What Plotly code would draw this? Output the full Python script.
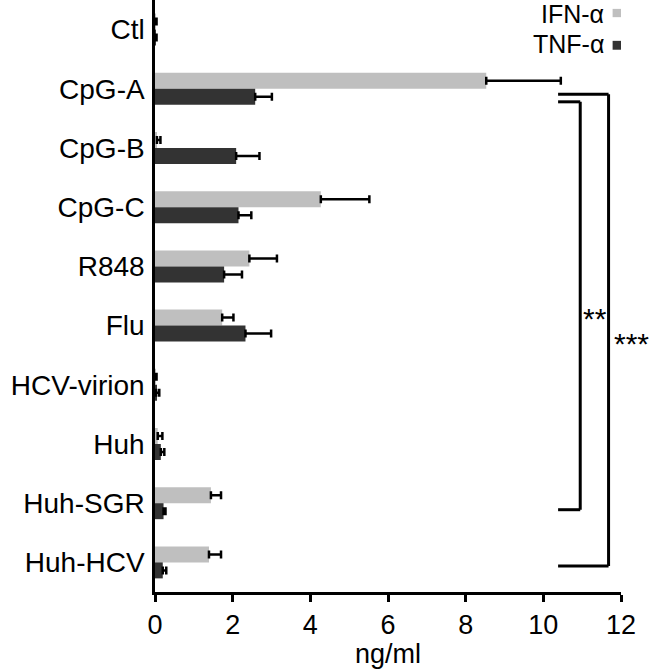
import plotly.graph_objects as go

categories = ["Ctl", "CpG-A", "CpG-B", "CpG-C", "R848", "Flu",
              "HCV-virion", "Huh", "Huh-SGR", "Huh-HCV"]
ifn_values = [0.01, 8.53, 0.05, 4.27, 2.43, 1.73, 0.01, 0.07, 1.44, 1.39]
ifn_errors = [0.03, 1.92, 0.09, 1.25, 0.71, 0.29, 0.03, 0.12, 0.26, 0.31]
tnf_values = [0.01, 2.58, 2.09, 2.15, 1.78, 2.33, 0.03, 0.15, 0.22, 0.20]
tnf_errors = [0.03, 0.43, 0.60, 0.33, 0.46, 0.66, 0.08, 0.09, 0.05, 0.09]
series_names = ["IFN-α", "TNF-α"]
x_ticks = [0, 2, 4, 6, 8, 10, 12]
x_title = "ng/ml"

FONT = "Arial, Liberation Sans, Helvetica, sans-serif"
IFN_COLOR = "#bfbfbf"
TNF_COLOR = "#333333"

fig = go.Figure()
for name, vals, errs, col in [(series_names[0], ifn_values, ifn_errors, IFN_COLOR),
                              (series_names[1], tnf_values, tnf_errors, TNF_COLOR)]:
    fig.add_trace(go.Bar(
        y=categories, x=vals, orientation="h", name=name,
        marker=dict(color=col, line=dict(width=0)),
        error_x=dict(type="data", array=errs, symmetric=False,
                     arrayminus=[0] * len(errs),
                     color="black", thickness=2.5, width=4),
        showlegend=False,
    ))

# significance brackets (category index positions)
line = dict(color="black", width=3)
i_a = categories.index("CpG-A")
i_sgr = categories.index("Huh-SGR")
i_hcv = categories.index("Huh-HCV")
x_left, x_inner, x_outer = 10.38, 10.95, 11.68
shapes = [
    # inner (**) bracket CpG-A to Huh-SGR
    dict(type="line", xref="x", yref="y", x0=x_left, x1=x_inner, y0=i_a + 0.22, y1=i_a + 0.22, line=line),
    dict(type="line", xref="x", yref="y", x0=x_inner, x1=x_inner, y0=i_a + 0.22, y1=i_sgr + 0.11, line=line),
    dict(type="line", xref="x", yref="y", x0=x_left, x1=x_inner, y0=i_sgr + 0.11, y1=i_sgr + 0.11, line=line),
    # outer (***) bracket CpG-A to Huh-HCV
    dict(type="line", xref="x", yref="y", x0=x_left, x1=x_outer, y0=i_a + 0.09, y1=i_a + 0.09, line=line),
    dict(type="line", xref="x", yref="y", x0=x_outer, x1=x_outer, y0=i_a + 0.09, y1=i_hcv + 0.06, line=line),
    dict(type="line", xref="x", yref="y", x0=x_left, x1=x_outer, y0=i_hcv + 0.06, y1=i_hcv + 0.06, line=line),
    # legend squares
    dict(type="rect", xref="paper", yref="paper", x0=0.982, x1=1.0, y0=0.971, y1=0.985,
         fillcolor=IFN_COLOR, line=dict(width=0)),
    dict(type="rect", xref="paper", yref="paper", x0=0.982, x1=1.0, y0=0.916, y1=0.931,
         fillcolor=TNF_COLOR, line=dict(width=0)),
]

PW = 466.0  # plot width in px
annotations = [
    dict(text="**", x=(581 - 155) / PW, y=1 - 318 / 592, xref="paper", yref="paper",
         xanchor="left", showarrow=False, font=dict(size=30, color="black", family=FONT)),
    dict(text="***", x=(612 - 155) / PW, y=1 - 343 / 592, xref="paper", yref="paper",
         xanchor="left", showarrow=False, font=dict(size=30, color="black", family=FONT)),
    dict(text=series_names[0], x=0.967, y=0.977, xref="paper", yref="paper",
         xanchor="right", yanchor="middle", showarrow=False,
         font=dict(size=25, color="black", family=FONT)),
    dict(text=series_names[1], x=0.967, y=0.926, xref="paper", yref="paper",
         xanchor="right", yanchor="middle", showarrow=False,
         font=dict(size=25, color="black", family=FONT)),
]

fig.update_layout(
    width=650, height=669,
    margin=dict(l=155, r=29, t=0, b=77),
    plot_bgcolor="white", paper_bgcolor="white",
    barmode="group", bargap=0.46, bargroupgap=0,
    font=dict(family=FONT, size=27, color="black"),
    shapes=shapes, annotations=annotations,
    xaxis=dict(range=[0, 12], tickvals=x_ticks, ticktext=[str(t) for t in x_ticks],
               showline=True, linecolor="black", linewidth=2.5,
               ticks="outside", ticklen=7, tickwidth=2.5, tickcolor="black",
               showgrid=False, zeroline=False,
               title=dict(text=x_title, font=dict(size=27), standoff=0),
               tickfont=dict(size=27)),
    yaxis=dict(categoryorder="array", categoryarray=categories,
               autorange="reversed", range=[9.5, -0.5],
               showline=True, linecolor="black", linewidth=2.5,
               ticks="", showgrid=False, zeroline=False,
               tickfont=dict(size=28), ticklabelstandoff=2),
)

fig.write_html("out.html", config={"displayModeBar": False},
               post_script="document.body.style.margin='0px';")
